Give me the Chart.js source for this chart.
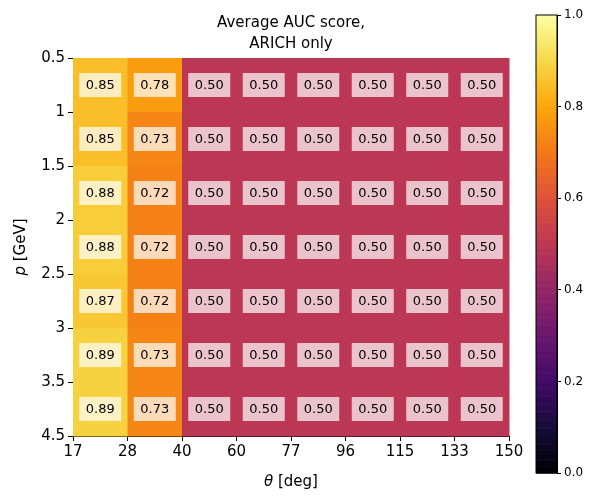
<!DOCTYPE html>
<html><head>
<script src="https://cdn.jsdelivr.net/npm/chart.js@4.4.1/dist/chart.umd.min.js"></script>
<style>
body{margin:0;background:#fff}
#wrap{position:relative;width:599px;height:501px}
#main{position:absolute;left:0;top:0}
#cbar{position:absolute;left:500px;top:0}
</style>
</head><body>
<div id="wrap">
<canvas id="main" width="599" height="501"></canvas>
<canvas id="cbar" width="99" height="501"></canvas>
</div>
<script>
// bin edges and AUC values (rows = p bins, cols = theta bins)
const thetaEdges = ['17','28','40','60','77','96','115','133','150'];
const pEdges = ['0.5','1','1.5','2','2.5','3','3.5','4.5'];
const col17 = [0.85,0.85,0.88,0.88,0.87,0.89,0.89];
const col28 = [0.78,0.73,0.72,0.72,0.72,0.73,0.73];
const restValue = 0.50;
const auc = col17.map((v,i) => [v, col28[i], restValue, restValue, restValue, restValue, restValue, restValue]);

const infernoStops = ['#000004','#160b39','#420a68','#6a176e','#932667','#bc3754','#dd513a','#f37819','#fca50a','#f6d746','#fcffa4'];
function hex(h){return [1,3,5].map(i=>parseInt(h.substr(i,2),16));}
function inferno(t){
  t=Math.max(0,Math.min(1,t));
  const f=t*10, i=Math.min(9,Math.floor(f)), r=f-i;
  const a=hex(infernoStops[i]), b=hex(infernoStops[i+1]);
  return 'rgb('+a.map((c,k)=>Math.round(c+(b[k]-c)*r)).join(',')+')';
}

const heatPlugin = {
  id:'heat',
  beforeDatasetsDraw(chart){
    const ctx=chart.ctx, xs=chart.scales.x, ys=chart.scales.y;
    ctx.save();
    auc.forEach((row,r)=>row.forEach((v,c)=>{
      const x0=xs.getPixelForValue(c), x1=xs.getPixelForValue(c+1);
      const y0=ys.getPixelForValue(r), y1=ys.getPixelForValue(r+1);
      ctx.fillStyle=inferno(v);
      ctx.fillRect(x0,y0,x1-x0+0.5,y1-y0+0.5);
      const cx=(x0+x1)/2, cy=(y0+y1)/2;
      ctx.fillStyle='rgba(255,255,255,0.7)';
      ctx.fillRect(cx-21,cy-12,42,24);
      ctx.fillStyle='#000';
      ctx.font='13px "DejaVu Sans"';
      ctx.textAlign='center';ctx.textBaseline='middle';
      ctx.fillText(v.toFixed(2),cx,cy+1);
    }));
    ctx.restore();
  },
  afterDraw(chart){
    const ctx=chart.ctx, a=chart.chartArea;
    ctx.save();
    ctx.fillStyle='#000';ctx.textAlign='center';ctx.textBaseline='alphabetic';
    ctx.font='15px "DejaVu Sans"';
    const mid=(a.left+a.right)/2;
    ctx.fillText('Average AUC score,',mid,27);
    ctx.fillText('ARICH only',mid,48);
    // x title
    ctx.font='italic 15px "DejaVu Sans"';
    const w1=ctx.measureText('θ').width;
    ctx.font='15px "DejaVu Sans"';
    const w2=ctx.measureText(' [deg]').width;
    let sx=mid-(w1+w2)/2;
    ctx.textAlign='left';
    ctx.font='italic 15px "DejaVu Sans"';ctx.fillText('θ',sx,486);
    ctx.font='15px "DejaVu Sans"';ctx.fillText(' [deg]',sx+w1,486);
    // y title
    ctx.translate(25,(a.top+a.bottom)/2);ctx.rotate(-Math.PI/2);
    ctx.font='italic 15px "DejaVu Sans"';
    const v1=ctx.measureText('p').width;
    ctx.font='15px "DejaVu Sans"';
    const v2=ctx.measureText(' [GeV]').width;
    sx=-(v1+v2)/2;
    ctx.font='italic 15px "DejaVu Sans"';ctx.fillText('p',sx,0);
    ctx.font='15px "DejaVu Sans"';ctx.fillText(' [GeV]',sx+v1,0);
    ctx.restore();
  }
};

const tickFont={family:'DejaVu Sans',size:15};
const axisGrid={display:true,drawOnChartArea:false,drawTicks:true,tickLength:5,color:'#000'};
new Chart(document.getElementById('main'),{
  type:'scatter',
  data:{datasets:[{data:[]}]},
  options:{
    responsive:false,animation:false,
    layout:{padding:{left:0,top:58,right:90,bottom:0}},
    plugins:{legend:{display:false},tooltip:{enabled:false}},
    scales:{
      x:{type:'linear',min:0,max:8,
        afterBuildTicks(s){s.ticks=thetaEdges.map((_,i)=>({value:i}));},
        ticks:{font:tickFont,color:'#000',padding:2,maxRotation:0,callback:v=>thetaEdges[v]},
        grid:axisGrid,border:{color:'#000',width:1},
        afterFit(s){s.height=65;}},
      y:{type:'linear',min:0,max:7,reverse:true,
        afterBuildTicks(s){s.ticks=pEdges.map((_,i)=>({value:i}));},
        ticks:{font:tickFont,color:'#000',padding:3,callback:v=>pEdges[v]},
        grid:axisGrid,border:{color:'#000',width:1},
        afterFit(s){s.width=73;}}
    }
  },
  plugins:[heatPlugin]
});

const cbarTicks=[0,0.2,0.4,0.6,0.8,1.0];
const cbarPlugin={
  id:'cbar',
  beforeDatasetsDraw(chart){
    const ctx=chart.ctx,a=chart.chartArea,ys=chart.scales.y;
    for(let i=0;i<200;i++){
      const v0=i/200,v1=(i+1)/200;
      const y0=ys.getPixelForValue(v1),y1=ys.getPixelForValue(v0);
      ctx.fillStyle=inferno((v0+v1)/2);
      ctx.fillRect(a.left,y0,a.right-a.left,y1-y0+0.6);
    }
    ctx.strokeStyle='#000';ctx.lineWidth=1;
    ctx.strokeRect(a.left,a.top,a.right-a.left,a.bottom-a.top);
  }
};
new Chart(document.getElementById('cbar'),{
  type:'scatter',
  data:{datasets:[{data:[]}]},
  options:{
    responsive:false,animation:false,
    layout:{padding:{left:36,top:15,right:0,bottom:28}},
    plugins:{legend:{display:false},tooltip:{enabled:false}},
    scales:{
      x:{display:false,min:0,max:1},
      y:{position:'right',min:0,max:1,
        afterBuildTicks(s){s.ticks=cbarTicks.map(v=>({value:v}));},
        ticks:{font:{family:'DejaVu Sans',size:12},color:'#000',padding:3,callback:v=>v.toFixed(1)},
        grid:{display:true,drawOnChartArea:false,tickLength:4,color:'#000'},
        border:{color:'#000'},
        afterFit(s){s.width=42;}}
    }
  },
  plugins:[cbarPlugin]
});
</script>
</body></html>
